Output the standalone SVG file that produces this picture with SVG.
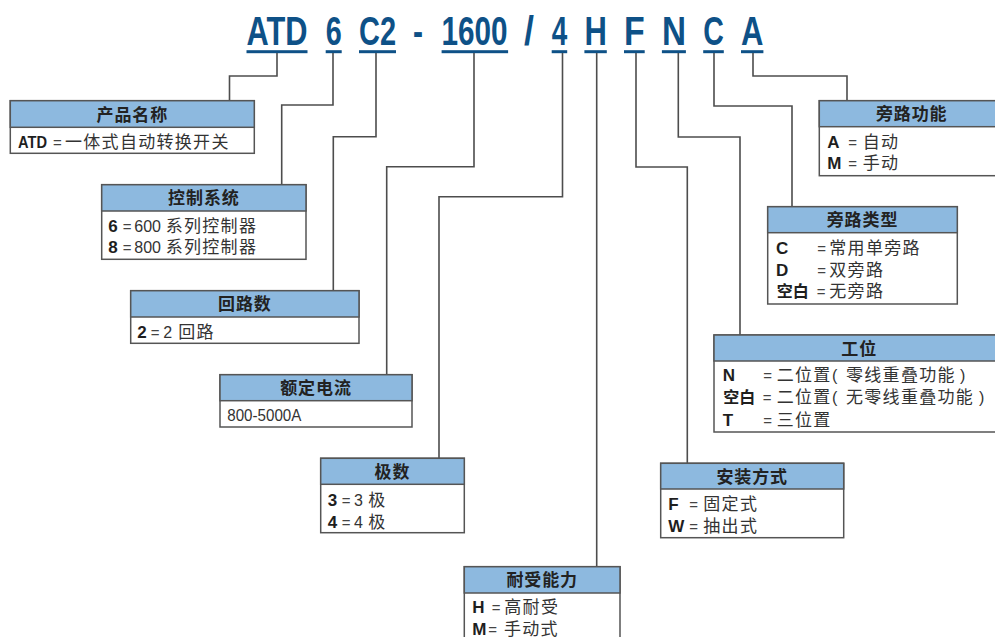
<svg xmlns="http://www.w3.org/2000/svg" width="995" height="637" viewBox="0 0 995 637">
<style>
  text { font-family: "Liberation Sans", "Noto Sans CJK SC", sans-serif; }
  .code { font-size: 40px; font-weight: bold; fill: #0e5187; }
  .ul { fill: #0e5187; }
  .conn { fill: none; stroke: #4d4d4d; stroke-width: 1.6; }
  .body { fill: #ffffff; stroke: #555555; stroke-width: 1.5; }
  .hd { fill: #8db9df; stroke: #555555; stroke-width: 1.5; }
  .h { font-size: 17px; font-weight: bold; fill: #222222; text-anchor: middle; letter-spacing: 0.9px; }
  .k { font-size: 17px; font-weight: bold; fill: #1e1e1e; }
  .kc { font-size: 16px; font-weight: bold; fill: #1e1e1e; }
  .e { font-size: 15px; fill: #444444; }
  .n { font-size: 16px; fill: #333333; }
  .v { font-size: 17px; fill: #333333; letter-spacing: 1.3px; }
</style>

<g id="code">
  <text class="code" x="246.5" y="44.7" textLength="61" lengthAdjust="spacingAndGlyphs">ATD</text>
  <text class="code" x="325.7" y="44.7" textLength="16" lengthAdjust="spacingAndGlyphs">6</text>
  <text class="code" x="359" y="44.7" textLength="37" lengthAdjust="spacingAndGlyphs">C2</text>
  <text class="code" x="413" y="44.7" textLength="10" lengthAdjust="spacingAndGlyphs">-</text>
  <text class="code" x="441.6" y="44.7" textLength="66" lengthAdjust="spacingAndGlyphs">1600</text>
  <text class="code" x="524" y="44.7" textLength="10" lengthAdjust="spacingAndGlyphs">/</text>
  <text class="code" x="551.7" y="44.7" textLength="15.5" lengthAdjust="spacingAndGlyphs">4</text>
  <text class="code" x="584.4" y="44.7" textLength="22.4" lengthAdjust="spacingAndGlyphs">H</text>
  <text class="code" x="624" y="44.7" textLength="20.7" lengthAdjust="spacingAndGlyphs">F</text>
  <text class="code" x="661.9" y="44.7" textLength="24" lengthAdjust="spacingAndGlyphs">N</text>
  <text class="code" x="703.2" y="44.7" textLength="20.6" lengthAdjust="spacingAndGlyphs">C</text>
  <text class="code" x="741" y="44.7" textLength="22.4" lengthAdjust="spacingAndGlyphs">A</text>
  <rect class="ul" x="246.5" y="50.2" width="61" height="3"/>
  <rect class="ul" x="325.7" y="50.2" width="16" height="3"/>
  <rect class="ul" x="359" y="50.2" width="37" height="3"/>
  <rect class="ul" x="441.6" y="50.2" width="66.5" height="3"/>
  <rect class="ul" x="551.7" y="50.2" width="15.5" height="3"/>
  <rect class="ul" x="584.4" y="50.2" width="22.4" height="3"/>
  <rect class="ul" x="624" y="50.2" width="20.7" height="3"/>
  <rect class="ul" x="661.9" y="50.2" width="24" height="3"/>
  <rect class="ul" x="703.2" y="50.2" width="20.6" height="3"/>
  <rect class="ul" x="741" y="50.2" width="22.4" height="3"/>
</g>

<g id="connectors">
  <path class="conn" d="M277 53 V76 H229.5 V100.7"/>
  <path class="conn" d="M333 53 V105 H281.7 V184.7"/>
  <path class="conn" d="M376 53 V136.7 H333.3 V290.7"/>
  <path class="conn" d="M474 53 V166.7 H386.7 V374.7"/>
  <path class="conn" d="M562.5 53 V196.7 H439 V458.3"/>
  <path class="conn" d="M596.7 53 V566.7"/>
  <path class="conn" d="M636 53 V167 H687.3 V463.3"/>
  <path class="conn" d="M678.3 53 V137 H740 V335"/>
  <path class="conn" d="M714 53 V106 H792 V206.7"/>
  <path class="conn" d="M753 53 V76 H847 V100.7"/>
</g>

<g id="node-product">
  <rect class="body" x="10.3" y="100.7" width="244" height="52.6"/>
  <rect class="hd" x="10.3" y="100.7" width="244" height="26.6"/>
  <text class="h" x="132.3" y="120.5">产品名称</text>
  <text class="k" x="18" y="147.5" textLength="29" lengthAdjust="spacingAndGlyphs">ATD</text>
  <text class="e" x="53" y="147.5">=</text>
  <text class="v" x="65" y="147.5">一体式自动转换开关</text>
</g>

<g id="node-control">
  <rect class="body" x="101.7" y="184.7" width="204.3" height="74.6"/>
  <rect class="hd" x="101.7" y="184.7" width="204.3" height="26.3"/>
  <text class="h" x="203.9" y="204.3">控制系统</text>
  <text class="k" x="108.3" y="231.5">6</text>
  <text class="e" x="122.7" y="231.5">=</text>
  <text class="n" x="134.3" y="231.5">600</text>
  <text class="v" x="165.7" y="231.5">系列控制器</text>
  <text class="k" x="108.3" y="253">8</text>
  <text class="e" x="122.7" y="253">=</text>
  <text class="n" x="134.3" y="253">800</text>
  <text class="v" x="165.7" y="253">系列控制器</text>
</g>

<g id="node-circuit">
  <rect class="body" x="130.7" y="290.7" width="228.3" height="52.6"/>
  <rect class="hd" x="130.7" y="290.7" width="228.3" height="26.3"/>
  <text class="h" x="244.9" y="310.3">回路数</text>
  <text class="k" x="137.3" y="337.5">2</text>
  <text class="e" x="150.7" y="337.5">=</text>
  <text class="n" x="163.3" y="337.5">2</text>
  <text class="v" x="178.3" y="337.5">回路</text>
</g>

<g id="node-current">
  <rect class="body" x="220" y="374.7" width="192" height="52.3"/>
  <rect class="hd" x="220" y="374.7" width="192" height="26"/>
  <text class="h" x="316" y="394.2">额定电流</text>
  <text class="n" x="227.3" y="421" textLength="74" lengthAdjust="spacingAndGlyphs">800-5000A</text>
</g>

<g id="node-poles">
  <rect class="body" x="320.7" y="458.3" width="143.6" height="74.4"/>
  <rect class="hd" x="320.7" y="458.3" width="143.6" height="26"/>
  <text class="h" x="392.5" y="477.8">极数</text>
  <text class="k" x="327.7" y="505.5">3</text>
  <text class="e" x="341.7" y="505.5">=</text>
  <text class="n" x="354" y="505.5">3</text>
  <text class="v" x="368.3" y="505.5">极</text>
  <text class="k" x="327.7" y="528">4</text>
  <text class="e" x="341.7" y="528">=</text>
  <text class="n" x="354" y="528">4</text>
  <text class="v" x="368.3" y="528">极</text>
</g>

<g id="node-withstand">
  <rect class="body" x="464.3" y="566.7" width="155.7" height="80"/>
  <rect class="hd" x="464.3" y="566.7" width="155.7" height="26.3"/>
  <text class="h" x="542.2" y="586.3">耐受能力</text>
  <text class="k" x="472.3" y="613">H</text>
  <text class="e" x="491.7" y="613">=</text>
  <text class="v" x="504.3" y="613">高耐受</text>
  <text class="k" x="472.3" y="634.5">M</text>
  <text class="e" x="488.3" y="634.5">=</text>
  <text class="v" x="504" y="634.5">手动式</text>
</g>

<g id="node-bypass-func">
  <rect class="body" x="819.3" y="100.7" width="185" height="75"/>
  <rect class="hd" x="819.3" y="100.7" width="185" height="26"/>
  <text class="h" x="911.7" y="120.2">旁路功能</text>
  <text class="k" x="827.3" y="147.5">A</text>
  <text class="e" x="848.3" y="147.5">=</text>
  <text class="v" x="862.7" y="147.5">自动</text>
  <text class="k" x="827.3" y="169">M</text>
  <text class="e" x="848.3" y="169">=</text>
  <text class="v" x="862.7" y="169">手动</text>
</g>

<g id="node-bypass-type">
  <rect class="body" x="767.7" y="206.7" width="189.6" height="97.3"/>
  <rect class="hd" x="767.7" y="206.7" width="189.6" height="26"/>
  <text class="h" x="862.5" y="226.2">旁路类型</text>
  <text class="k" x="776" y="253.8">C</text>
  <text class="e" x="817.3" y="253.8">=</text>
  <text class="v" x="829.3" y="253.8">常用单旁路</text>
  <text class="k" x="776" y="275.5">D</text>
  <text class="e" x="817.3" y="275.5">=</text>
  <text class="v" x="829.3" y="275.5">双旁路</text>
  <text class="kc" x="776.7" y="297">空白</text>
  <text class="e" x="816.7" y="297">=</text>
  <text class="v" x="829.3" y="297">无旁路</text>
</g>

<g id="node-position">
  <rect class="body" x="714" y="335" width="290" height="97"/>
  <rect class="hd" x="714" y="335" width="290" height="26"/>
  <text class="h" x="859.2" y="354.5">工位</text>
  <text class="k" x="722.7" y="380.8">N</text>
  <text class="e" x="763.3" y="380.8">=</text>
  <text class="v" x="776.7" y="380.8">二位置</text>
  <text class="n" x="832" y="380.8">(</text>
  <text class="v" x="846" y="380.8">零线重叠功能</text>
  <text class="n" x="960" y="380.8">)</text>
  <text class="kc" x="723.3" y="403">空白</text>
  <text class="e" x="762.7" y="403">=</text>
  <text class="v" x="776.7" y="403">二位置</text>
  <text class="n" x="832" y="403">(</text>
  <text class="v" x="846" y="403">无零线重叠功能</text>
  <text class="n" x="979" y="403">)</text>
  <text class="k" x="722.7" y="425.5">T</text>
  <text class="e" x="763.3" y="425.5">=</text>
  <text class="v" x="776.7" y="425.5">三位置</text>
</g>

<g id="node-mounting">
  <rect class="body" x="660.7" y="463.3" width="183" height="74.4"/>
  <rect class="hd" x="660.7" y="463.3" width="183" height="25.7"/>
  <text class="h" x="752.2" y="482.7">安装方式</text>
  <text class="k" x="668.3" y="509.8">F</text>
  <text class="e" x="689.3" y="509.8">=</text>
  <text class="v" x="703.3" y="509.8">固定式</text>
  <text class="k" x="668.3" y="531.5">W</text>
  <text class="e" x="689.3" y="531.5">=</text>
  <text class="v" x="703.3" y="531.5">抽出式</text>
</g>
</svg>
